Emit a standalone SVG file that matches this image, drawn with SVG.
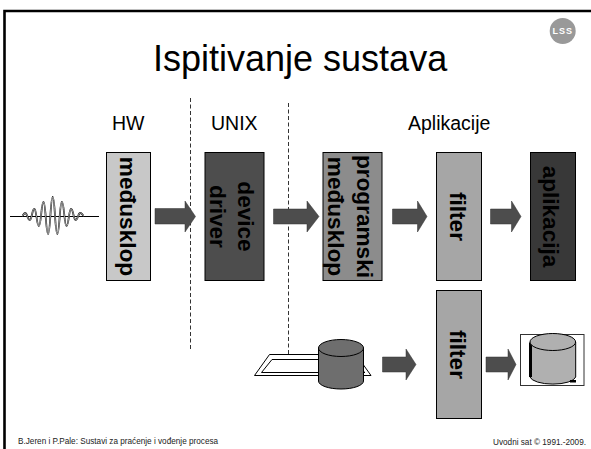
<svg xmlns="http://www.w3.org/2000/svg" width="591" height="449" viewBox="0 0 591 449">
<defs>
<style>
text{font-family:"Liberation Sans",Arial,sans-serif;fill:#000}
.h{font-size:19.5px}
.t{font-size:36px}
.b{font-size:22.6px;font-weight:bold;text-anchor:middle}
.f{font-size:8.2px;fill:#222}
.box{stroke:#000;stroke-width:1}
.dash{fill:none;stroke:#333;stroke-width:1;stroke-dasharray:4 2.5}
.arrow{fill:#4d4d4d;stroke:#333;stroke-width:.5}
.ln{stroke:#000;stroke-width:1}
</style>
<path id="wave" d="M22 216C23 216 24 213 25.1 213C27.4 213 27.4 220 29.7 220C32 220 32 209 34.3 209C36.6 209 36.6 226 38.9 226C41.2 226 41.2 202 43.5 202C45.8 202 45.8 234 48.1 234C50.4 234 50.4 197 52.7 197C55 197 55 234 57.3 234C59.6 234 59.6 202 61.9 202C64.2 202 64.2 226 66.5 226C68.8 226 68.8 209 71.1 209C73.4 209 73.4 220 75.7 220C78 220 78 213 80.3 213C82 213 83 216 84 216" fill="none"/>
</defs>
<rect width="591" height="449" fill="#fff"/>
<path d="M4.500 449V11H591" fill="none" stroke="#000" stroke-width="2.600"/>
<text class="t" x="153" y="71">Ispitivanje sustava</text>
<text class="h" x="112" y="129.500">HW</text>
<text class="h" x="211" y="129.500">UNIX</text>
<text class="h" x="408" y="129.500">Aplikacije</text>
<g id="logo"><circle cx="562.700" cy="31" r="13" fill="#999"/><text x="562.700" y="34" font-size="9" font-weight="bold" text-anchor="middle" letter-spacing="1" style="fill:#fff">LSS</text></g>
<g id="connectors">
<path class="dash" d="M190.500 98V350"/>
<path class="dash" d="M288.500 103V354"/>
<g class="arrow">
<polygon points="155,208.500 185,208.500 185,201 195.500,216.500 185,232 185,224 155,224"/>
<polygon points="273.500,209 307,209 307,201 319,216.500 307,232 307,224 273.500,224"/>
<polygon points="392.500,209 417.500,209 417.500,201 427,216.500 417.500,232 417.500,224 392.500,224"/>
<polygon points="490.500,209 511.500,209 511.500,201 521,216.500 511.500,232 511.500,224 490.500,224"/>
<polygon points="382.500,357 406,357 406,349 416,364.500 406,380 406,372 382.500,372"/>
<polygon points="486,357 508,357 508,349 516,364.500 508,380 508,372 486,372"/>
</g>
</g>
<g id="signal">
<path class="ln" d="M10 216.500H99"/>
<use href="#wave" stroke="#111" stroke-width="1.800"/>
<use href="#wave" stroke="#fff" stroke-width=".6"/>
</g>
<g id="medusklop"><rect class="box" x="106.500" y="152.500" width="44" height="128" fill="#c8c8c8"/><text class="b" transform="translate(120 216.500) rotate(90)">međusklop</text></g>
<g id="device-driver"><rect class="box" x="205" y="152.500" width="59" height="128" fill="#4d4d4d"/><text class="b" transform="translate(238 216.500) rotate(90)">device</text><text class="b" transform="translate(209.500 216.500) rotate(90)">driver</text></g>
<g id="programski"><rect class="box" x="323" y="152.500" width="59" height="128" fill="#8c8c8c"/><text class="b" transform="translate(357 216.500) rotate(90)">programski</text><text class="b" transform="translate(328 216.500) rotate(90)">međusklop</text></g>
<g id="filter1"><rect class="box" x="436.500" y="152.500" width="45" height="128" fill="#a6a6a6"/><text class="b" transform="translate(450 216.500) rotate(90)">filter</text></g>
<g id="aplikacija"><rect class="box" x="530.500" y="152.500" width="45" height="128" fill="#383838"/><text class="b" transform="translate(543 216.500) rotate(90)">aplikacija</text></g>
<g id="filter2"><rect class="box" x="436.500" y="290.500" width="45" height="128" fill="#a6a6a6"/><text class="b" transform="translate(450 354.500) rotate(90)">filter</text></g>
<g id="source">
<polygon points="254.500,375.500 269.500,354.500 356,354.500 371,375.500" fill="#fff" stroke="#000"/>
<polygon points="261.500,372.500 272,359.500 345,359.500 365,372.500" fill="#fff" stroke="#000"/>
<path d="M318.500 348V381A22.500 8 0 0 0 363.500 381V348Z" fill="#6e6e6e" stroke="#000"/>
<ellipse cx="341" cy="348" rx="22.500" ry="8.500" fill="#6e6e6e" stroke="#000"/>
</g>
<g id="store">
<rect x="520.500" y="334.500" width="63.500" height="51" fill="#fff" stroke="#333"/>
<path d="M530 342V377A23 8 0 0 0 575.700 377V342Z" fill="#b0b0b0" stroke="#000"/>
<path d="M530.500 343V377" stroke="#000" stroke-width="3"/>
<ellipse cx="552.800" cy="342" rx="22.800" ry="8.500" fill="#b0b0b0" stroke="#000"/>
<rect x="570" y="380" width="6" height="2.500" fill="#000"/>
</g>
<text class="f" x="18" y="444">B.Jeren i P.Pale: Sustavi za praćenje i vođenje procesa</text>
<text class="f" x="586" y="445" text-anchor="end">Uvodni sat © 1991.-2009.</text>
</svg>
